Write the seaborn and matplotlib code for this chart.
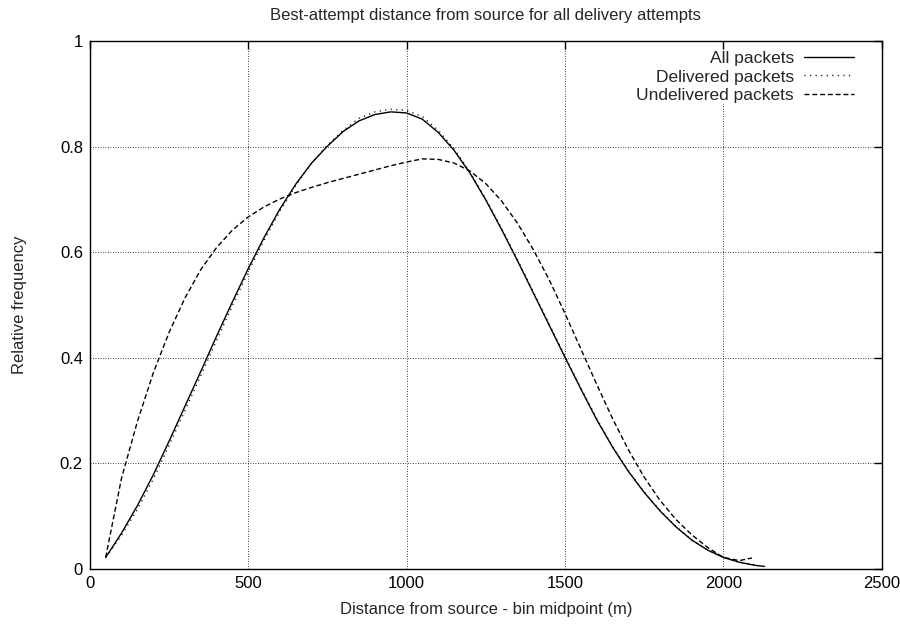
import numpy as np
import pandas as pd
import matplotlib.pyplot as plt
from matplotlib.ticker import FuncFormatter
import seaborn as sns

sns.set_theme(style='white')
plt.rcParams['font.family'] = ['Liberation Sans', 'DejaVu Sans']

# distances (bin midpoints, m) and relative frequency per series
all_x = [50, 100, 150, 200, 250, 300, 350, 400, 450, 500, 550, 600, 650, 700,
         750, 800, 850, 900, 950, 1000, 1050, 1100, 1150, 1200, 1250, 1300,
         1350, 1400, 1450, 1500, 1550, 1600, 1650, 1700, 1750, 1800, 1850,
         1900, 1950, 2000, 2050, 2100, 2130]
all_y = [0.022, 0.068, 0.120, 0.178, 0.242, 0.308, 0.374, 0.441, 0.506, 0.569,
         0.628, 0.682, 0.729, 0.769, 0.801, 0.829, 0.849, 0.861, 0.866, 0.864,
         0.852, 0.827, 0.793, 0.750, 0.699, 0.643, 0.584, 0.523, 0.462, 0.401,
         0.341, 0.283, 0.231, 0.185, 0.145, 0.110, 0.080, 0.055, 0.036, 0.022,
         0.013, 0.007, 0.005]

delivered_x = [50, 100, 150, 200, 250, 300, 350, 400, 450, 500, 550, 600, 650,
               700, 750, 800, 850, 900, 950, 1000, 1050, 1100, 1150, 1200,
               1250, 1300, 1350, 1400, 1450, 1500, 1550, 1600, 1650, 1700,
               1750, 1800, 1850, 1900, 1950, 2000, 2050, 2100]
delivered_y = [0.022, 0.064, 0.113, 0.170, 0.234, 0.300, 0.366, 0.433, 0.499,
               0.563, 0.623, 0.678, 0.727, 0.769, 0.803, 0.831, 0.854, 0.866,
               0.871, 0.869, 0.857, 0.831, 0.796, 0.752, 0.701, 0.645, 0.586,
               0.525, 0.464, 0.403, 0.343, 0.285, 0.232, 0.186, 0.146, 0.111,
               0.081, 0.055, 0.036, 0.022, 0.013, 0.008]

undelivered_x = [50, 100, 150, 200, 250, 300, 350, 400, 450, 500, 550, 600,
                 650, 700, 750, 800, 850, 900, 950, 1000, 1050, 1100, 1150,
                 1200, 1250, 1300, 1350, 1400, 1450, 1500, 1550, 1600, 1650,
                 1700, 1750, 1800, 1850, 1900, 1950, 2000, 2050, 2090]
undelivered_y = [0.022, 0.172, 0.279, 0.371, 0.448, 0.513, 0.567, 0.609, 0.642,
                 0.667, 0.686, 0.701, 0.713, 0.723, 0.732, 0.740, 0.748, 0.756,
                 0.764, 0.771, 0.777, 0.776, 0.769, 0.754, 0.730, 0.697, 0.655,
                 0.605, 0.548, 0.484, 0.417, 0.350, 0.285, 0.226, 0.174, 0.130,
                 0.094, 0.065, 0.041, 0.022, 0.016, 0.021]

fig = plt.figure(figsize=(9, 6.29), dpi=100)
ax = fig.add_axes([0.0998, 0.0953, 0.88, 0.8393])

sns.lineplot(x=all_x, y=all_y, ax=ax, color='black', lw=1,
             label='All packets')
sns.lineplot(x=delivered_x, y=delivered_y, ax=ax, color='black', lw=1,
             linestyle=(0, (0.8, 3.2)), label='Delivered packets')
sns.lineplot(x=undelivered_x, y=undelivered_y, ax=ax, color='black', lw=1,
             linestyle=(0, (3.6, 2)), label='Undelivered packets')

ax.set_xlim(0, 2500)
ax.set_ylim(0, 1)
ax.set_xticks([0, 500, 1000, 1500, 2000, 2500])
ax.set_yticks([0, 0.2, 0.4, 0.6, 0.8, 1])
ax.yaxis.set_major_formatter(FuncFormatter(lambda v, p: '%g' % v))
ax.tick_params(direction='in', length=5.5, width=1, top=True, right=True,
               labelsize=12, colors='black', pad=5)
ax.grid(True, color='black', lw=0.6, linestyle=(0, (1, 2)))
ax.set_axisbelow(True)
for s in ax.spines.values():
    s.set_color('black')
    s.set_linewidth(1)

ax.set_xlabel('Distance from source - bin midpoint (m)', fontsize=12,
              labelpad=8)
ax.set_ylabel('Relative frequency', fontsize=12, labelpad=23.5)
ax.set_title('Best-attempt distance from source for all delivery attempts',
             fontsize=12, pad=15.5)

leg = ax.legend(loc='upper right', bbox_to_anchor=(0.967, 0.984),
                borderaxespad=0, borderpad=0.1, markerfirst=False,
                handlelength=2.9, handletextpad=0.55, labelspacing=0.17,
                fontsize=12.5, frameon=True, fancybox=False)
leg.get_frame().set_facecolor('white')
leg.get_frame().set_edgecolor('none')
leg.get_frame().set_alpha(1)
for t in leg.get_texts():
    t.set_ha('right')

fig.savefig('out.png', dpi=100)
